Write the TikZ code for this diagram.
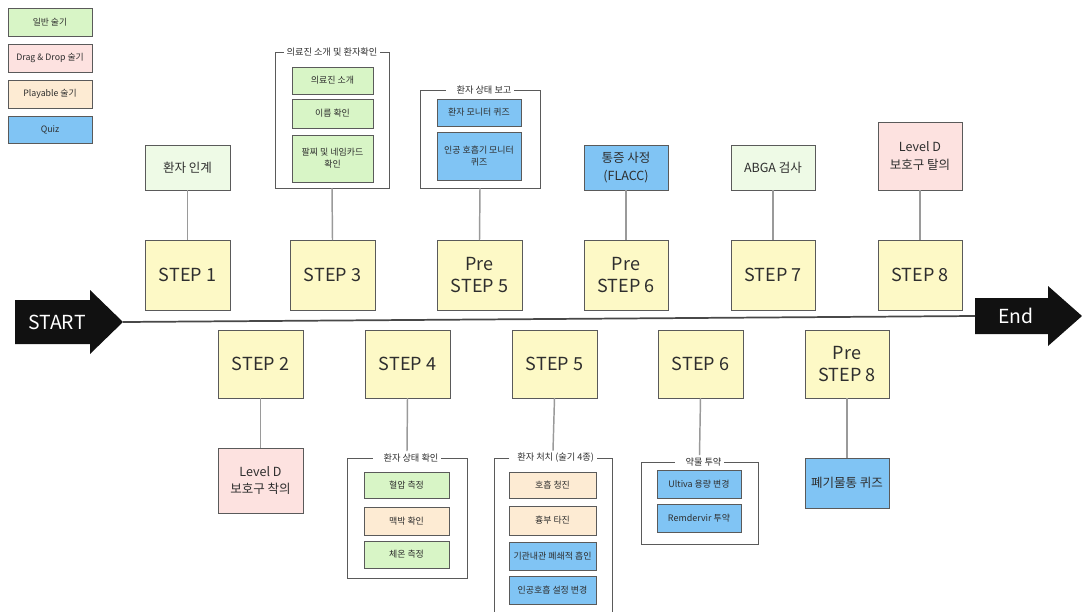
\documentclass[tikz,border=0pt]{standalone}
\usepackage{fontspec}
\setmainfont{Noto Sans CJK KR}
\definecolor{gfill}{HTML}{D8F5C6}
\definecolor{glight}{HTML}{EEFAE6}
\definecolor{pfill}{HTML}{FDE2E0}
\definecolor{ofill}{HTML}{FDEBD3}
\definecolor{bfill}{HTML}{80C4F4}
\definecolor{yfill}{HTML}{FDF9C6}
\definecolor{bordc}{HTML}{5A5A5A}
\definecolor{txt}{HTML}{2E2E2E}
\definecolor{conn}{HTML}{9A9A9A}
\definecolor{arrowc}{HTML}{111111}
\begin{document}
\begin{tikzpicture}[x=0.75pt,y=-0.75pt,
  sz/.style 2 args={minimum width={#1*0.75pt},minimum height={#2*0.75pt}},
  box/.style={draw=bordc,line width=0.7pt,align=center,inner sep=1pt,text=txt,outer sep=0pt},
  leg/.style={box,font=\fontsize{6.6pt}{8pt}\selectfont},
  inner/.style={box,font=\fontsize{6.7pt}{9pt}\selectfont},
  label/.style={box,font=\fontsize{9.4pt}{13pt}\selectfont},
  stepbox/.style={box,fill=yfill,font=\fontsize{13.5pt}{17pt}\selectfont},
  gfr/.style={outer sep=0pt,inner sep=0pt},
  gtitle/.style={font=\fontsize{6.9pt}{8pt}\selectfont,text=txt,inner sep=2pt,outer sep=0pt},
  frame/.style={draw=bordc,line width=0.7pt},
  conline/.style={draw=conn,line width=1.1pt},
  tl/.style={draw=bordc!80!black,line width=1.3pt},
  arrtext/.style={text=white,font=\fontsize{14.5pt}{16pt}\selectfont,inner sep=0pt}
]
\path[use as bounding box] (0,0) rectangle (1082,611);
\clip (0,0) rectangle (1082,611);

% legend
\node[leg,fill=gfill,sz={84}{28}] (lg1) at (50,22) {일반 술기};
\node[leg,fill=pfill,sz={84}{28}] (lg2) at (50,58) {Drag \& Drop 술기};
\node[leg,fill=ofill,sz={84}{28}] (lg3) at (50,94) {Playable 술기};
\node[leg,fill=bfill,sz={84}{27}] (lg4) at (50,130) {Quiz};

% timeline arrows
\fill[arrowc] (15,300) -- (90,300) -- (90,290) -- (123,322) -- (90,354) -- (90,344) -- (15,344) -- cycle;
\node[arrtext] (start) at (57,322) {START};
\coordinate (starttip) at (123,322);
\fill[arrowc] (975,298) -- (1048,298) -- (1048,286) -- (1082,316) -- (1048,346) -- (1048,334) -- (975,334) -- cycle;
\node[arrtext] (endn) at (1016,316) {End};
\coordinate (endtail) at (975,316);
\draw[tl] (starttip) -- (endtail);

% top row
\node[label,fill=glight,sz={85}{45}] (hand) at (187.5,167.5) {환자 인계};
\node[stepbox,sz={85}{70}] (s1) at (187.5,275) {STEP 1};
\draw[conline] (hand.south) -- (s1.north);

\node[gfr,sz={114}{136}] (g3) at (332,120) {};
\node[gtitle] (g3t) at (g3.north) {의료진 소개 및 환자확인};
\draw[frame] (g3t.west) -- (g3.north west) -- (g3.south west) -- (g3.south east) -- (g3.north east) -- (g3t.east);
\node[inner,fill=gfill,sz={81}{27}] (g3a) at (332.5,80.5) {의료진 소개};
\node[inner,fill=gfill,sz={81}{29}] (g3b) at (332.5,113.5) {이름 확인};
\node[inner,fill=gfill,sz={81}{47}] (g3c) at (332.5,158.5) {팔찌 및 네임카드\\확인};
\node[stepbox,sz={85}{70}] (s3) at (332.5,275) {STEP 3};
\draw[conline] (g3.south) -- (s3.north);

\node[gfr,sz={120}{98}] (g5p) at (480,139) {};
\node[gtitle] (g5pt) at (g5p.north) {\hspace{6pt}환자 상태 보고\hspace{6pt}};
\draw[frame] (g5pt.west) -- (g5p.north west) -- (g5p.south west) -- (g5p.south east) -- (g5p.north east) -- (g5pt.east);
\node[inner,fill=bfill,sz={84}{27}] (g5pa) at (479,112.5) {환자 모니터 퀴즈};
\node[inner,fill=bfill,sz={84}{48}] (g5pb) at (479,156) {인공 호흡기 모니터\\퀴즈};
\node[stepbox,sz={85}{70}] (sp5) at (479.5,275) {Pre\\STEP 5};
\draw[conline] (g5p.south) -- (sp5.north);

\node[label,fill=bfill,sz={84}{45}] (pain) at (626,167.5) {통증 사정\\(FLACC)};
\node[stepbox,sz={84}{70}] (sp6) at (626,275) {Pre\\STEP 6};
\draw[conline] (pain.south) -- (sp6.north);

\node[label,fill=glight,sz={84}{45}] (abga) at (773,167.5) {ABGA 검사};
\node[stepbox,sz={84}{70}] (s7) at (773,275) {STEP 7};
\draw[conline] (abga.south) -- (s7.north);

\node[label,fill=pfill,sz={84}{68}] (doff) at (920,156) {Level D\\보호구 탈의};
\node[stepbox,sz={84}{70}] (s8) at (920,275) {STEP 8};
\draw[conline] (doff.south) -- (s8.north);

% bottom row
\node[stepbox,sz={85}{68}] (s2) at (260.5,364) {STEP 2};
\node[label,fill=pfill,sz={85}{65}] (don) at (260.5,480.5) {Level D\\보호구 착의};
\draw[conline] (s2.south) -- (don.north);

\node[stepbox,sz={85}{68}] (s4) at (407.5,364) {STEP 4};
\node[gfr,sz={120}{120}] (g4) at (407,518) {};
\node[gtitle] (g4t) at (g4.north) {\hspace{6pt}환자 상태 확인\hspace{6pt}};
\draw[frame] (g4t.west) -- (g4.north west) -- (g4.south west) -- (g4.south east) -- (g4.north east) -- (g4t.east);
\node[inner,fill=gfill,sz={85}{26}] (g4a) at (406.5,485) {혈압 측정};
\node[inner,fill=ofill,sz={85}{28}] (g4b) at (406.5,521) {맥박 확인};
\node[inner,fill=gfill,sz={85}{27}] (g4c) at (406.5,554.5) {체온 측정};
\draw[conline] (s4.south) -- (g4t.north);

\node[stepbox,sz={85}{68}] (s5) at (554.5,364) {STEP 5};
\node[gfr,sz={118}{160}] (g5) at (553,538) {};
\node[gtitle] (g5t) at (g5.north) {\hspace{4pt}환자 처치 (술기 4종)\hspace{4pt}};
\draw[frame] (g5t.west) -- (g5.north west) -- (g5.south west) -- (g5.south east) -- (g5.north east) -- (g5t.east);
\node[inner,fill=ofill,sz={87}{26}] (g5a) at (552.5,485) {호흡 청진};
\node[inner,fill=ofill,sz={87}{29}] (g5b) at (552.5,520.5) {흉부 타진};
\node[inner,fill=bfill,sz={87}{28}] (g5c) at (552.5,556) {기관내관 폐쇄적 흡인};
\node[inner,fill=bfill,sz={87}{28}] (g5d) at (552.5,590) {인공호흡 설정 변경};
\draw[conline] (s5.south) -- (g5t.north);

\node[stepbox,sz={85}{68}] (s6) at (700.5,364) {STEP 6};
\node[gfr,sz={117}{82}] (g6) at (699.5,503) {};
\node[gtitle] (g6t) at (g6.north) {\hspace{6pt}약물 투약\hspace{6pt}};
\draw[frame] (g6t.west) -- (g6.north west) -- (g6.south west) -- (g6.south east) -- (g6.north east) -- (g6t.east);
\node[inner,fill=bfill,sz={84}{28}] (g6a) at (699,484) {Ultiva 용량 변경};
\node[inner,fill=bfill,sz={84}{28}] (g6b) at (699,518) {Remdervir 투약};
\draw[conline] (s6.south) -- (g6t.north);

\node[stepbox,sz={84}{68}] (sp8) at (847,364) {Pre\\STEP 8};
\node[label,fill=bfill,sz={84}{50}] (waste) at (847,483) {폐기물통 퀴즈};
\draw[conline] (sp8.south) -- (waste.north);
\end{tikzpicture}
\end{document}
